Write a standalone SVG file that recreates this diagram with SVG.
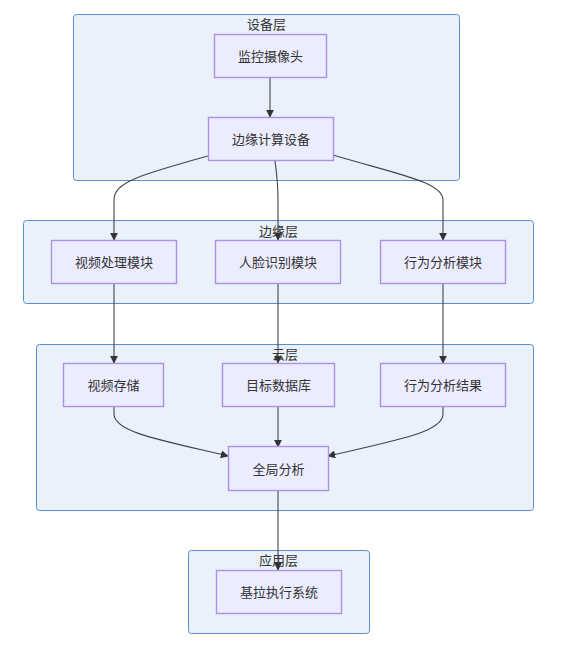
<svg xmlns="http://www.w3.org/2000/svg" width="578" height="645" viewBox="0 0 578 645">
<defs>
<style>
.cluster rect{fill:#eaf1fb;stroke:#5890cc;stroke-width:1}
.node rect{fill:#ececff;stroke:#ad92e3;stroke-width:1.4}
text{font-family:"Liberation Sans","Noto Sans CJK SC",sans-serif;font-size:13px;fill:#333;text-anchor:middle;dominant-baseline:central}
.edge{fill:none;stroke:#444;stroke-width:1.1;marker-end:url(#arr)}
</style>
<marker id="arr" viewBox="0 0 10 10" refX="9" refY="5" markerWidth="8" markerHeight="8" markerUnits="userSpaceOnUse" orient="auto">
<path d="M0,0 L10,5 L0,10 z" fill="#333"/>
</marker>
</defs>
<rect width="578" height="645" fill="#fff"/>
<g id="cluster-device" class="cluster"><rect x="73.5" y="14.5" width="386" height="166" rx="3"/><text x="266.5" y="24">设备层</text></g>
<g id="cluster-edge" class="cluster"><rect x="23.5" y="220.5" width="510" height="83" rx="3"/><text x="278.5" y="231">边缘层</text></g>
<g id="cluster-cloud" class="cluster"><rect x="36.5" y="344.5" width="497" height="166" rx="3"/><text x="285" y="354">云层</text></g>
<g id="cluster-app" class="cluster"><rect x="188.5" y="550.5" width="181" height="83" rx="3"/><text x="278.5" y="560">应用层</text></g>
<g id="connectors">
<path class="edge" d="M270,77 L270,117"/>
<path class="edge" d="M208,156 C140,175 114,182 114,200 L114,240"/>
<path class="edge" d="M275,161 C277,175 278,185 278,200 L278,240"/>
<path class="edge" d="M333,155 C400,175 443,182 443,200 L443,240"/>
<path class="edge" d="M114,284 L114,363"/>
<path class="edge" d="M278,284 L278,363"/>
<path class="edge" d="M443,284 L443,363"/>
<path class="edge" d="M114,407 L114,414 C114,432 160,440 228,456"/>
<path class="edge" d="M278,407 L278,447"/>
<path class="edge" d="M443,407 L443,414 C443,432 398,440 328,456"/>
<path class="edge" d="M278,491 L278,570"/>
</g>
<g id="n-camera" class="node"><rect x="214.5" y="34.5" width="112" height="43"/><text x="270.5" y="56">监控摄像头</text></g>
<g id="n-edgedev" class="node"><rect x="208.5" y="117.5" width="125" height="43"/><text x="271" y="139">边缘计算设备</text></g>
<g id="n-video" class="node"><rect x="51.5" y="240.5" width="125" height="43"/><text x="114" y="262">视频处理模块</text></g>
<g id="n-face" class="node"><rect x="215.5" y="240.5" width="125" height="43"/><text x="278" y="262">人脸识别模块</text></g>
<g id="n-behav" class="node"><rect x="380.5" y="240.5" width="125" height="43"/><text x="443" y="262">行为分析模块</text></g>
<g id="n-store" class="node"><rect x="63.5" y="363.5" width="100" height="43"/><text x="113.5" y="385">视频存储</text></g>
<g id="n-db" class="node"><rect x="222.5" y="363.5" width="112" height="43"/><text x="278.5" y="385">目标数据库</text></g>
<g id="n-result" class="node"><rect x="380.5" y="363.5" width="125" height="43"/><text x="443" y="385">行为分析结果</text></g>
<g id="n-global" class="node"><rect x="228.5" y="446.5" width="100" height="44"/><text x="278.5" y="469">全局分析</text></g>
<g id="n-kira" class="node"><rect x="216.5" y="570.5" width="125" height="43"/><text x="279" y="592">基拉执行系统</text></g>
</svg>
